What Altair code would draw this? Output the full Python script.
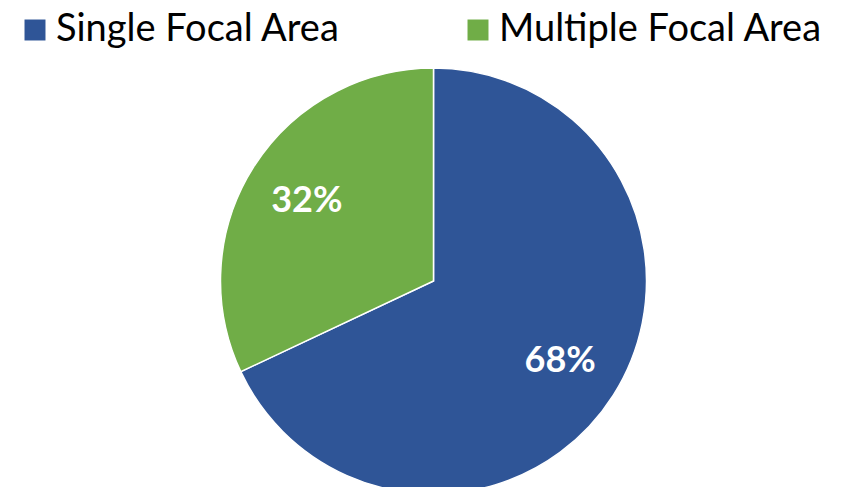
import altair as alt
import pandas as pd

categories = ["Single Focal Area", "Multiple Focal Area"]
values = [68, 32]
labels = ["68%", "32%"]
colors = ["#2F5597", "#70AD47"]

df = pd.DataFrame({"cat": categories, "val": values, "label": labels, "order": [0, 1]})

cx, cy, r = 425.5, 273, 213

base = alt.Chart(df).encode(
    theta=alt.Theta("val:Q", stack=True),
    order=alt.Order("order:Q"),
    x=alt.value(cx),
    y=alt.value(cy),
)

pie = base.mark_arc(radius=r, stroke="white", strokeWidth=1.5).encode(
    color=alt.Color(
        "cat:N",
        scale=alt.Scale(domain=categories, range=colors),
        legend=alt.Legend(
            title=None,
            orient="none",
            legendX=8,
            legendY=3,
            direction="horizontal",
            symbolType="square",
            symbolSize=440,
            symbolStrokeWidth=0,
            labelFontSize=38,
            labelFont="Lato",
            labelColor="black",
            labelOffset=2,
            columnPadding=118,
            labelLimit=500,
        ),
    )
)

text = base.mark_text(
    radius=150, font="Lato", fontSize=36, fontWeight="bold", color="white"
).encode(text="label:N")

chart = (
    alt.layer(pie, text)
    .properties(width=830, height=479, autosize="none", padding=0)
    .configure_view(stroke=None)
)

chart.save("out.html", embed_options={"renderer": "svg", "actions": False})
